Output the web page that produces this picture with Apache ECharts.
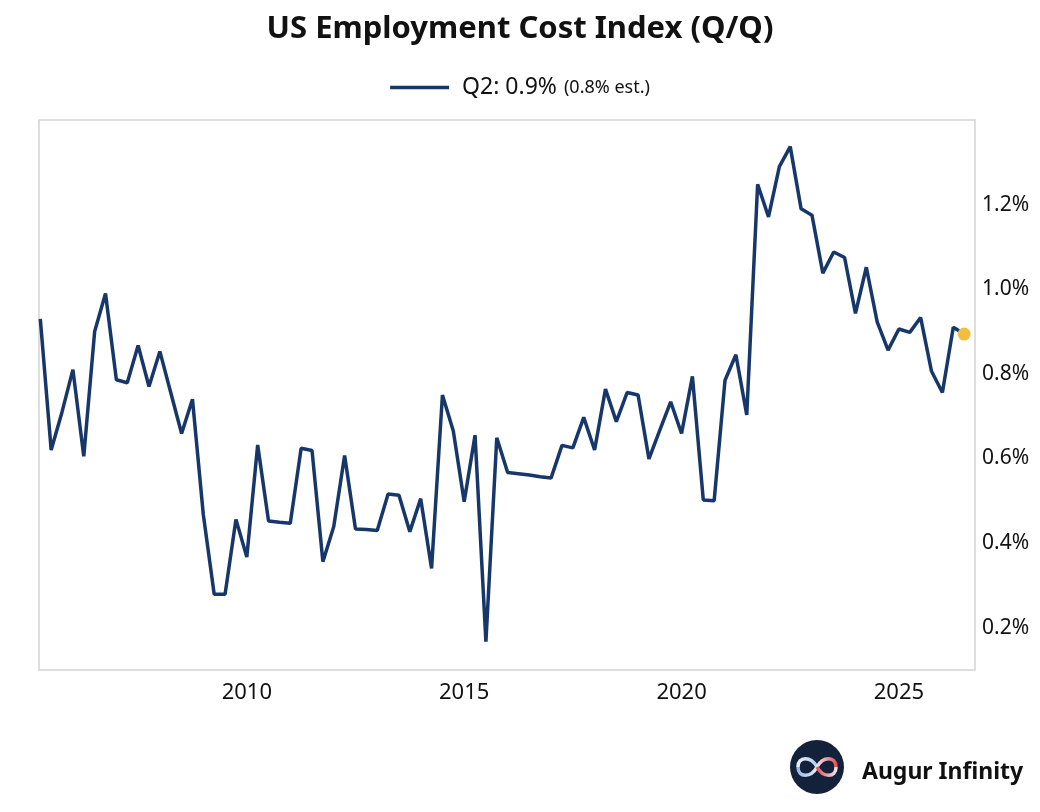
<!DOCTYPE html>
<html lang="en">
<head>
    <meta charset="UTF-8">
    <title>US Employment Cost Index (Q/Q)</title>
    <script src="https://cdn.jsdelivr.net/npm/echarts@6.0.0/dist/echarts.min.js"></script>
    <style>
        body, html {
            margin: 0;
            padding: 0;
            background-color: #ffffff;
        }
        #chart {
            width: 1040px;
            height: 812px;
        }
    </style>
</head>
<body>
    <div id="chart"></div>

    <script>
        // quarterly Q/Q change, %, first quarter plotted at April 2005
        const firstQuarter = [2005, 4];
        const eciValues = [
            0.93, 0.62, 0.71, 0.81, 0.605, 0.90, 0.99, 0.786, 0.779, 0.867,
            0.770, 0.853, 0.756, 0.659, 0.740, 0.467, 0.279, 0.279, 0.456, 0.367,
            0.632, 0.452, 0.449, 0.447, 0.624, 0.619, 0.356, 0.439, 0.607, 0.433,
            0.432, 0.430, 0.516, 0.513, 0.427, 0.505, 0.340, 0.750, 0.665, 0.498,
            0.655, 0.167, 0.649, 0.567, 0.564, 0.561, 0.557, 0.554, 0.631, 0.625,
            0.697, 0.620, 0.764, 0.687, 0.756, 0.750, 0.599, 0.667, 0.734, 0.659,
            0.794, 0.502, 0.500, 0.785, 0.845, 0.703, 1.248, 1.171, 1.290, 1.337,
            1.190, 1.175, 1.038, 1.088, 1.075, 0.943, 1.052, 0.923, 0.856, 0.906,
            0.898, 0.933, 0.806, 0.756, 0.910, 0.894
        ];
        const yearLabels = [2010, 2015, 2020, 2025];
        const yLabels = [0.2, 0.4, 0.6, 0.8, 1.0, 1.2];
        const seriesName = 'Q2: 0.9%';
        const estimateNote = '(0.8% est.)';

        const lineColor = '#17376a';
        const dotColor = '#f0bf3f';
        const font = "'Noto Sans', 'Open Sans', sans-serif";

        // quarter index -> decimal year (month start)
        function quarterYear(i) {
            const m = firstQuarter[1] - 1 + i * 3;
            return firstQuarter[0] + m / 12;
        }

        const lineData = eciValues.map((v, i) => [quarterYear(i), v]);
        const last = lineData[lineData.length - 1];

        // logo loops
        function loopPiece(x1, x2, cx1, cy1, cx2, cy2, c1, c2) {
            return {
                type: 'bezierCurve',
                shape: { x1: x1, y1: 0, x2: x2, y2: 0, cpx1: cx1, cpy1: cy1, cpx2: cx2, cpy2: cy2 },
                style: {
                    fill: null,
                    lineWidth: 3.5,
                    stroke: new echarts.graphic.LinearGradient(0, 0, 1, 0, [
                        { offset: 0, color: c1 },
                        { offset: 1, color: c2 }
                    ])
                }
            };
        }

        const chart = echarts.init(document.getElementById('chart'));

        const option = {
            backgroundColor: '#ffffff',
            animation: false,
            title: {
                text: 'US Employment Cost Index (Q/Q)',
                left: 'center',
                top: 9,
                textStyle: { fontFamily: font, fontSize: 31, fontWeight: 'bold', color: '#111111' }
            },
            legend: {
                top: 71,
                left: 'center',
                data: [seriesName],
                icon: 'rect',
                itemWidth: 59,
                itemHeight: 3.5,
                itemGap: 10,
                formatter: name => '{a|' + name + '}{b|' + estimateNote + '}',
                textStyle: {
                    padding: [0, 0, 0, 8],
                    rich: {
                        a: { fontFamily: font, fontSize: 23, color: '#111111' },
                        b: { fontFamily: font, fontSize: 18, color: '#111111', padding: [0, 0, 0, 7] }
                    }
                }
            },
            grid: {
                left: 39,
                right: 65,
                top: 120,
                bottom: 142,
                show: true,
                borderColor: '#d3d3d3',
                borderWidth: 1.5
            },
            xAxis: {
                type: 'value',
                min: 2005.22,
                max: 2026.75,
                axisLine: { show: false },
                axisTick: { show: false },
                splitLine: { show: false },
                axisLabel: {
                    customValues: yearLabels,
                    formatter: v => String(Math.round(v)),
                    margin: 12,
                    fontFamily: font,
                    fontSize: 22,
                    color: '#111111'
                }
            },
            yAxis: {
                type: 'value',
                position: 'right',
                min: 0.1,
                max: 1.4,
                axisLine: { show: false },
                axisTick: { show: false },
                splitLine: { show: false },
                axisLabel: {
                    customValues: yLabels,
                    margin: 7,
                    fontFamily: font,
                    fontSize: 21,
                    color: '#111111',
                    formatter: v => v.toFixed(1) + '%'
                }
            },
            series: [
                {
                    name: seriesName,
                    type: 'line',
                    data: lineData,
                    showSymbol: false,
                    lineStyle: { color: lineColor, width: 3.5 },
                    itemStyle: { color: lineColor },
                    z: 2
                },
                {
                    name: 'latest',
                    type: 'scatter',
                    data: [last],
                    symbolSize: 13,
                    itemStyle: { color: dotColor, opacity: 1 },
                    z: 3
                }
            ],
            graphic: [
                {
                    type: 'group',
                    x: 817,
                    y: 767,
                    children: [
                        {
                            type: 'circle',
                            shape: { cx: 0, cy: 0, r: 27 },
                            style: { fill: '#13213a' }
                        },
                        loopPiece(0, -19, -6, -11, -19, -11, '#f2f4f8', '#a9c8ee'),
                        loopPiece(-19, 0, -19, 11, -6, 11, '#8fb4e6', '#f2f4f8'),
                        loopPiece(0, 19, 6, -11, 19, -11, '#f2f4f8', '#e2434a'),
                        loopPiece(19, 0, 19, 11, 6, 11, '#e2434a', '#f2f4f8')
                    ]
                },
                {
                    type: 'text',
                    x: 862,
                    y: 772,
                    style: {
                        text: 'Augur Infinity',
                        fontFamily: font,
                        fontSize: 23,
                        fontWeight: 'bold',
                        fill: '#111111',
                        verticalAlign: 'middle'
                    }
                }
            ]
        };

        chart.setOption(option);
    </script>
</body>
</html>
